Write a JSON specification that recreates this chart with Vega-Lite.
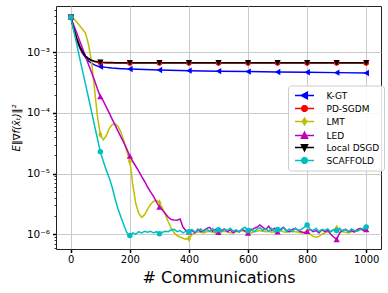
{
  "$schema": "https://vega.github.io/schema/vega-lite/v6.json",
  "width": 325,
  "height": 243,
  "autosize": "none",
  "padding": {"left": 56, "top": 6, "right": 7, "bottom": 44},
  "background": "white",
  "config": {
    "view": {"stroke": "#222222", "strokeWidth": 1},
    "font": "DejaVu Sans"
  },
  "data": {
    "values": [
      {"x": 0, "K-GT": 3.8e-3, "PD-SGDM": 3.8e-3, "LMT": 3.8e-3, "LED": 3.8e-3, "Local DSGD": 3.8e-3, "SCAFFOLD": 3.8e-3},
      {"x": 10, "K-GT": 2.4e-3, "PD-SGDM": 2.44e-3, "LMT": 3.6e-3, "LED": 2.8e-3, "Local DSGD": 2.47e-3, "SCAFFOLD": 2.29e-3},
      {"x": 20, "K-GT": 1.62e-3, "PD-SGDM": 1.68e-3, "LMT": 3.15e-3, "LED": 2.1e-3, "Local DSGD": 1.7e-3, "SCAFFOLD": 1.38e-3},
      {"x": 30, "K-GT": 1.2e-3, "PD-SGDM": 1.25e-3, "LMT": 2.75e-3, "LED": 1.55e-3, "Local DSGD": 1.27e-3, "SCAFFOLD": 8.1e-4},
      {"x": 40, "K-GT": 9.6e-4, "PD-SGDM": 9.95e-4, "LMT": 2.4e-3, "LED": 1.15e-3, "Local DSGD": 1.01e-3, "SCAFFOLD": 4.9e-4},
      {"x": 50, "K-GT": 8.2e-4, "PD-SGDM": 8.6e-4, "LMT": 2.05e-3, "LED": 8.5e-4, "Local DSGD": 8.7e-4, "SCAFFOLD": 2.95e-4},
      {"x": 60, "K-GT": 7.2e-4, "PD-SGDM": 7.77e-4, "LMT": 1.35e-3, "LED": 6.3e-4, "Local DSGD": 7.87e-4, "SCAFFOLD": 1.78e-4},
      {"x": 70, "K-GT": 6.6e-4, "PD-SGDM": 7.29e-4, "LMT": 7.2e-4, "LED": 4.7e-4, "Local DSGD": 7.39e-4, "SCAFFOLD": 1.07e-4},
      {"x": 80, "K-GT": 6.2e-4, "PD-SGDM": 7.02e-4, "LMT": 2.6e-4, "LED": 3.5e-4, "Local DSGD": 7.12e-4, "SCAFFOLD": 6.3e-5},
      {"x": 90, "K-GT": 5.95e-4, "PD-SGDM": 6.86e-4, "LMT": 9e-5, "LED": 2.5e-4, "Local DSGD": 6.96e-4, "SCAFFOLD": 3.8e-5},
      {"x": 100, "K-GT": 5.8e-4, "PD-SGDM": 6.77e-4, "LMT": 4.4e-5, "LED": 1.86e-4, "Local DSGD": 6.87e-4, "SCAFFOLD": 2.3e-5},
      {"x": 110, "K-GT": 5.72e-4, "PD-SGDM": 6.72e-4, "LMT": 3.6e-5, "LED": 1.58e-4, "Local DSGD": 6.82e-4, "SCAFFOLD": 1.6e-5},
      {"x": 120, "K-GT": 5.64e-4, "PD-SGDM": 6.69e-4, "LMT": 4.2e-5, "LED": 1.26e-4, "Local DSGD": 6.79e-4, "SCAFFOLD": 1.15e-5},
      {"x": 130, "K-GT": 5.57e-4, "PD-SGDM": 6.67e-4, "LMT": 5.5e-5, "LED": 1.0e-4, "Local DSGD": 6.77e-4, "SCAFFOLD": 8.5e-6},
      {"x": 140, "K-GT": 5.5e-4, "PD-SGDM": 6.66e-4, "LMT": 6.4e-5, "LED": 7.9e-5, "Local DSGD": 6.76e-4, "SCAFFOLD": 6.0e-6},
      {"x": 150, "K-GT": 5.45e-4, "PD-SGDM": 6.65e-4, "LMT": 6.6e-5, "LED": 6.3e-5, "Local DSGD": 6.75e-4, "SCAFFOLD": 3.8e-6},
      {"x": 160, "K-GT": 5.41e-4, "LMT": 6.0e-5, "LED": 5.0e-5, "SCAFFOLD": 2.6e-6},
      {"x": 170, "K-GT": 5.37e-4, "LMT": 4.8e-5, "LED": 4.0e-5, "SCAFFOLD": 1.9e-6},
      {"x": 180, "K-GT": 5.34e-4, "LMT": 3.4e-5, "LED": 3.2e-5, "SCAFFOLD": 1.4e-6},
      {"x": 190, "K-GT": 5.32e-4, "LMT": 2.3e-5, "LED": 2.5e-5, "SCAFFOLD": 1.05e-6},
      {"x": 200, "K-GT": 5.3e-4, "PD-SGDM": 6.65e-4, "LMT": 1.6e-5, "LED": 1.95e-5, "Local DSGD": 6.75e-4, "SCAFFOLD": 9.5e-7},
      {"x": 210, "LMT": 6.5e-6, "LED": 1.58e-5, "SCAFFOLD": 1.05e-6},
      {"x": 220, "LMT": 3.2e-6, "LED": 1.32e-5, "SCAFFOLD": 1.0e-6},
      {"x": 230, "LMT": 2.2e-6, "LED": 1.1e-5, "SCAFFOLD": 1.1e-6},
      {"x": 240, "LMT": 1.9e-6, "LED": 8.9e-6, "SCAFFOLD": 1.05e-6},
      {"x": 250, "LMT": 2.1e-6, "LED": 7.4e-6, "SCAFFOLD": 1.12e-6},
      {"x": 260, "LMT": 2.6e-6, "LED": 6.0e-6, "SCAFFOLD": 1.08e-6},
      {"x": 270, "LMT": 3.1e-6, "LED": 5.0e-6, "SCAFFOLD": 1.12e-6},
      {"x": 280, "LMT": 3.5e-6, "LED": 4.2e-6, "SCAFFOLD": 1.05e-6},
      {"x": 290, "LMT": 3.6e-6, "LED": 3.4e-6, "SCAFFOLD": 1.1e-6},
      {"x": 300, "K-GT": 5.1e-4, "PD-SGDM": 6.65e-4, "LMT": 3.3e-6, "LED": 2.8e-6, "Local DSGD": 6.75e-4, "SCAFFOLD": 1.02e-6},
      {"x": 310, "LMT": 2.7e-6, "LED": 2.5e-6, "SCAFFOLD": 1.08e-6},
      {"x": 320, "LMT": 2.1e-6, "LED": 2.2e-6, "SCAFFOLD": 1.12e-6},
      {"x": 330, "LMT": 1.6e-6, "LED": 1.9e-6, "SCAFFOLD": 1.1e-6},
      {"x": 340, "LMT": 1.25e-6, "LED": 1.75e-6, "SCAFFOLD": 1.18e-6},
      {"x": 350, "LMT": 1.05e-6, "LED": 1.72e-6, "SCAFFOLD": 1.2e-6},
      {"x": 360, "LMT": 9.5e-7, "LED": 1.7e-6, "SCAFFOLD": 1.1e-6},
      {"x": 370, "LMT": 9.0e-7, "LED": 1.78e-6, "SCAFFOLD": 1.15e-6},
      {"x": 380, "LMT": 8.6e-7, "LED": 1.3e-6, "SCAFFOLD": 1.05e-6},
      {"x": 390, "LMT": 8.3e-7, "LED": 1.15e-6, "SCAFFOLD": 1.12e-6},
      {"x": 400, "K-GT": 4.97e-4, "PD-SGDM": 6.65e-4, "LMT": 8.5e-7, "LED": 1.1e-6, "Local DSGD": 6.75e-4, "SCAFFOLD": 1.1e-6},
      {"x": 410, "LMT": 9.8e-7, "LED": 1.15e-6, "SCAFFOLD": 1.2e-6},
      {"x": 420, "LMT": 1.05e-6, "LED": 1.05e-6, "SCAFFOLD": 1.08e-6},
      {"x": 430, "LMT": 1.1e-6, "LED": 1.2e-6, "SCAFFOLD": 1.15e-6},
      {"x": 440, "LMT": 1.08e-6, "LED": 1.1e-6, "SCAFFOLD": 1.22e-6},
      {"x": 450, "LMT": 1.05e-6, "LED": 1.15e-6, "SCAFFOLD": 1.1e-6},
      {"x": 460, "LMT": 1.1e-6, "LED": 1.25e-6, "SCAFFOLD": 1.2e-6},
      {"x": 470, "LMT": 1.12e-6, "LED": 1.3e-6, "SCAFFOLD": 1.12e-6},
      {"x": 480, "LMT": 1.08e-6, "LED": 1.12e-6, "SCAFFOLD": 1.25e-6},
      {"x": 490, "LMT": 1.05e-6, "LED": 1.2e-6, "SCAFFOLD": 1.08e-6},
      {"x": 500, "K-GT": 4.88e-4, "PD-SGDM": 6.65e-4, "LMT": 1.08e-6, "LED": 1.08e-6, "Local DSGD": 6.75e-4, "SCAFFOLD": 1.18e-6},
      {"x": 510, "LMT": 1.1e-6, "LED": 1.15e-6, "SCAFFOLD": 1.1e-6},
      {"x": 520, "LMT": 1.12e-6, "LED": 1.22e-6, "SCAFFOLD": 1.2e-6},
      {"x": 530, "LMT": 1.1e-6, "LED": 1.1e-6, "SCAFFOLD": 1.15e-6},
      {"x": 540, "LMT": 1.05e-6, "LED": 1.18e-6, "SCAFFOLD": 1.25e-6},
      {"x": 550, "LMT": 1.08e-6, "LED": 1.05e-6, "SCAFFOLD": 1.12e-6},
      {"x": 560, "LMT": 1.1e-6, "LED": 1.15e-6, "SCAFFOLD": 1.18e-6},
      {"x": 570, "LMT": 1.12e-6, "LED": 1.1e-6, "SCAFFOLD": 1.08e-6},
      {"x": 580, "LMT": 1.15e-6, "LED": 1.2e-6, "SCAFFOLD": 1.22e-6},
      {"x": 590, "LMT": 1.1e-6, "LED": 1.12e-6, "SCAFFOLD": 1.3e-6},
      {"x": 600, "K-GT": 4.8e-4, "PD-SGDM": 6.65e-4, "LMT": 1.08e-6, "LED": 1.05e-6, "Local DSGD": 6.75e-4, "SCAFFOLD": 1.15e-6},
      {"x": 610, "LMT": 1.05e-6, "LED": 1.15e-6, "SCAFFOLD": 1.22e-6},
      {"x": 620, "LMT": 1.1e-6, "LED": 1.25e-6, "SCAFFOLD": 1.1e-6},
      {"x": 630, "LMT": 1.12e-6, "LED": 1.3e-6, "SCAFFOLD": 1.2e-6},
      {"x": 640, "LMT": 1.15e-6, "LED": 1.42e-6, "SCAFFOLD": 1.28e-6},
      {"x": 650, "LMT": 1.12e-6, "LED": 1.3e-6, "SCAFFOLD": 1.15e-6},
      {"x": 660, "LMT": 1.1e-6, "LED": 1.2e-6, "SCAFFOLD": 1.22e-6},
      {"x": 670, "LMT": 1.12e-6, "LED": 1.35e-6, "SCAFFOLD": 1.12e-6},
      {"x": 680, "LMT": 1.08e-6, "LED": 1.15e-6, "SCAFFOLD": 1.25e-6},
      {"x": 690, "LMT": 1.1e-6, "LED": 1.25e-6, "SCAFFOLD": 1.1e-6},
      {"x": 700, "K-GT": 4.73e-4, "PD-SGDM": 6.65e-4, "LMT": 1.12e-6, "LED": 1.1e-6, "Local DSGD": 6.75e-4, "SCAFFOLD": 1.2e-6},
      {"x": 710, "LMT": 1.15e-6, "LED": 1.2e-6, "SCAFFOLD": 1.15e-6},
      {"x": 720, "LMT": 1.1e-6, "LED": 1.3e-6, "SCAFFOLD": 1.28e-6},
      {"x": 730, "LMT": 1.08e-6, "LED": 1.15e-6, "SCAFFOLD": 1.12e-6},
      {"x": 740, "LMT": 1.1e-6, "LED": 1.1e-6, "SCAFFOLD": 1.22e-6},
      {"x": 750, "LMT": 1.12e-6, "LED": 1.2e-6, "SCAFFOLD": 1.1e-6},
      {"x": 760, "LMT": 1.1e-6, "LED": 1.25e-6, "SCAFFOLD": 1.25e-6},
      {"x": 770, "LMT": 1.08e-6, "LED": 1.15e-6, "SCAFFOLD": 1.15e-6},
      {"x": 780, "LMT": 1.05e-6, "LED": 1.1e-6, "SCAFFOLD": 1.2e-6},
      {"x": 790, "LMT": 1.08e-6, "LED": 1.05e-6, "SCAFFOLD": 1.3e-6},
      {"x": 800, "K-GT": 4.68e-4, "PD-SGDM": 6.65e-4, "LMT": 1.1e-6, "LED": 1.12e-6, "Local DSGD": 6.75e-4, "SCAFFOLD": 1.42e-6},
      {"x": 810, "LMT": 1.0e-6, "LED": 1.2e-6, "SCAFFOLD": 1.2e-6},
      {"x": 820, "LMT": 9.2e-7, "LED": 1.1e-6, "SCAFFOLD": 1.15e-6},
      {"x": 830, "LMT": 8.9e-7, "LED": 1.15e-6, "SCAFFOLD": 1.25e-6},
      {"x": 840, "LMT": 9.2e-7, "LED": 1.05e-6, "SCAFFOLD": 1.1e-6},
      {"x": 850, "LMT": 1.0e-6, "LED": 1.18e-6, "SCAFFOLD": 1.2e-6},
      {"x": 860, "LMT": 1.05e-6, "LED": 1.1e-6, "SCAFFOLD": 1.15e-6},
      {"x": 870, "LMT": 1.1e-6, "LED": 1.15e-6, "SCAFFOLD": 1.22e-6},
      {"x": 880, "LMT": 1.12e-6, "LED": 1.0e-6, "SCAFFOLD": 1.1e-6},
      {"x": 890, "LMT": 1.2e-6, "LED": 9.0e-7, "SCAFFOLD": 1.18e-6},
      {"x": 900, "K-GT": 4.62e-4, "PD-SGDM": 6.65e-4, "LMT": 1.25e-6, "LED": 8.2e-7, "Local DSGD": 6.75e-4, "SCAFFOLD": 1.15e-6},
      {"x": 910, "LMT": 1.15e-6, "LED": 1.05e-6, "SCAFFOLD": 1.25e-6},
      {"x": 920, "LMT": 1.1e-6, "LED": 1.15e-6, "SCAFFOLD": 1.12e-6},
      {"x": 930, "LMT": 1.08e-6, "LED": 1.2e-6, "SCAFFOLD": 1.2e-6},
      {"x": 940, "LMT": 1.05e-6, "LED": 1.1e-6, "SCAFFOLD": 1.1e-6},
      {"x": 950, "LMT": 1.1e-6, "LED": 1.15e-6, "SCAFFOLD": 1.22e-6},
      {"x": 960, "LMT": 1.12e-6, "LED": 1.08e-6, "SCAFFOLD": 1.15e-6},
      {"x": 970, "LMT": 1.15e-6, "LED": 1.2e-6, "SCAFFOLD": 1.12e-6},
      {"x": 980, "LMT": 1.18e-6, "LED": 1.25e-6, "SCAFFOLD": 1.2e-6},
      {"x": 990, "LMT": 1.2e-6, "LED": 1.15e-6, "SCAFFOLD": 1.25e-6},
      {"x": 1000, "K-GT": 4.56e-4, "PD-SGDM": 6.65e-4, "LMT": 1.22e-6, "LED": 1.2e-6, "Local DSGD": 6.75e-4, "SCAFFOLD": 1.32e-6}
    ]
  },
  "transform": [
    {"fold": ["K-GT", "PD-SGDM", "LMT", "LED", "Local DSGD", "SCAFFOLD"], "as": ["series", "value"]},
    {"filter": "isValid(datum.value)"}
  ],
  "encoding": {
    "x": {
      "field": "x", "type": "quantitative",
      "scale": {"domain": [-50, 1050], "nice": false, "zero": false},
      "axis": {
        "values": [0, 200, 400, 600, 800, 1000], "format": "d",
        "labelFont": "DejaVu Sans", "labelFontSize": 10, "labelColor": "black", "labelPadding": 2,
        "tickSize": 3.5, "tickWidth": 1.5, "tickColor": "black",
        "domain": false, "grid": true, "gridColor": "#cbcbcb", "gridWidth": 1,
        "title": "# Communications", "titleFont": "DejaVu Sans", "titleFontSize": 16,
        "titleFontWeight": "normal", "titleColor": "black", "titlePadding": 5
      }
    },
    "y": {
      "field": "value", "type": "quantitative",
      "scale": {"type": "log", "domain": [5.7e-7, 5.8e-3], "nice": false},
      "axis": {
        "values": [6e-7, 7e-7, 8e-7, 9e-7, 1e-6, 2e-6, 3e-6, 4e-6, 5e-6, 6e-6, 7e-6, 8e-6, 9e-6, 1e-5, 2e-5, 3e-5, 4e-5, 5e-5, 6e-5, 7e-5, 8e-5, 9e-5, 1e-4, 2e-4, 3e-4, 4e-4, 5e-4, 6e-4, 7e-4, 8e-4, 9e-4, 1e-3, 2e-3, 3e-3, 4e-3, 5e-3],
        "labelExpr": "abs(log(datum.value)/LN10+6)<0.01 ? '10⁻⁶' : abs(log(datum.value)/LN10+5)<0.01 ? '10⁻⁵' : abs(log(datum.value)/LN10+4)<0.01 ? '10⁻⁴' : abs(log(datum.value)/LN10+3)<0.01 ? '10⁻³' : ''",
        "labelFont": "DejaVu Sans", "labelFontSize": 10.5, "labelColor": "black", "labelPadding": 3,
        "tickColor": "black",
        "tickSize": {"condition": {"test": "abs(log(datum.value)/LN10 - round(log(datum.value)/LN10)) < 0.01", "value": 3.5}, "value": 2},
        "tickWidth": {"condition": {"test": "abs(log(datum.value)/LN10 - round(log(datum.value)/LN10)) < 0.01", "value": 1.5}, "value": 0.8},
        "domain": false, "grid": true, "gridColor": "#cbcbcb", "gridWidth": 1,
        "gridOpacity": {"condition": {"test": "abs(log(datum.value)/LN10 - round(log(datum.value)/LN10)) < 0.01", "value": 1}, "value": 0},
        "labelOverlap": false,
        "title": "E‖∇f(x̄ₜ)‖²", "titleFont": "DejaVu Sans", "titleFontSize": 10, "titleFontStyle": "italic",
        "titleFontWeight": "normal", "titleColor": "black", "titlePadding": 5
      }
    },
    "color": {
      "field": "series", "type": "nominal", "legend": null,
      "scale": {
        "domain": ["K-GT", "PD-SGDM", "LMT", "LED", "Local DSGD", "SCAFFOLD"],
        "range": ["#0000ff", "#ff0000", "#bfbf00", "#bf00bf", "#000000", "#00bfbf"]
      }
    }
  },
  "layer": [
    {
      "transform": [{"filter": {"field": "x", "oneOf": [0, 100, 200, 300, 400, 500, 600, 700, 800, 900, 1000]}}],
      "mark": {"type": "point", "filled": true, "opacity": 0, "strokeWidth": 1.5},
      "encoding": {
        "color": {
          "field": "series", "type": "nominal",
          "scale": {
            "domain": ["K-GT", "PD-SGDM", "LMT", "LED", "Local DSGD", "SCAFFOLD"],
            "range": ["#0000ff", "#ff0000", "#bfbf00", "#bf00bf", "#000000", "#00bfbf"]
          },
          "legend": {"title": null, "orient": "none", "legendX": 232, "legendY": 79.5, "labelFont": "DejaVu Sans", "labelFontSize": 9, "labelColor": "black", "symbolSize": 100, "symbolStrokeWidth": 1.5, "symbolOpacity": 1, "symbolOffset": 6.5, "padding": 4, "rowPadding": 0, "labelOffset": 16, "fillColor": "rgba(255,255,255,0.85)", "strokeColor": "#cccccc", "cornerRadius": 3}
        },
        "stroke": {
          "field": "series", "type": "nominal",
          "scale": {
            "domain": ["K-GT", "PD-SGDM", "LMT", "LED", "Local DSGD", "SCAFFOLD"],
            "range": ["#0000ff", "#ff0000", "#bfbf00", "#bf00bf", "#000000", "#00bfbf"]
          },
          "legend": {"title": null, "orient": "none", "legendX": 232, "legendY": 79.5, "labelFont": "DejaVu Sans", "labelFontSize": 9, "labelColor": "black", "symbolSize": 100, "symbolStrokeWidth": 1.5, "symbolOpacity": 1, "symbolOffset": 6.5, "padding": 4, "rowPadding": 0, "labelOffset": 16, "fillColor": "rgba(255,255,255,0.85)", "strokeColor": "#cccccc", "cornerRadius": 3}
        },
        "shape": {
          "field": "series", "type": "nominal",
          "scale": {
            "domain": ["K-GT", "PD-SGDM", "LMT", "LED", "Local DSGD", "SCAFFOLD"],
            "range": [
              "M-1.9,0H1.9M-0.65,0L0.57,-0.65L0.57,0.65Z",
              "M-1.9,0H1.9M0.53,0.22L0.22,0.53L-0.22,0.53L-0.53,0.22L-0.53,-0.22L-0.22,-0.53L0.22,-0.53L0.53,-0.22Z",
              "M-1.9,0H1.9M0,-0.68L0.42,0L0,0.68L-0.42,0Z",
              "M-1.9,0H1.9M0,-0.65L0.61,0.53L-0.61,0.53Z",
              "M-1.9,0H1.9M0,0.65L0.61,-0.53L-0.61,-0.53Z",
              "M-1.9,0H1.9M0.53,0.22L0.22,0.53L-0.22,0.53L-0.53,0.22L-0.53,-0.22L-0.22,-0.53L0.22,-0.53L0.53,-0.22Z"
            ]
          },
          "legend": {"title": null, "orient": "none", "legendX": 232, "legendY": 79.5, "labelFont": "DejaVu Sans", "labelFontSize": 9, "labelColor": "black", "symbolSize": 100, "symbolStrokeWidth": 1.5, "symbolOpacity": 1, "symbolOffset": 6.5, "padding": 4, "rowPadding": 0, "labelOffset": 16, "fillColor": "rgba(255,255,255,0.85)", "strokeColor": "#cccccc", "cornerRadius": 3}
        }
      }
    },
    {
      "mark": {"type": "line", "strokeWidth": 1.5},
      "encoding": {}
    },
    {
      "transform": [{"filter": {"and": [{"field": "series", "equal": "K-GT"}, {"field": "x", "oneOf": [0, 100, 200, 300, 400, 500, 600, 700, 800, 900, 1000]}]}}],
      "mark": {"type": "point", "filled": true, "opacity": 1, "shape": "triangle-left", "size": 40},
      "encoding": {}
    },
    {
      "transform": [{"filter": {"and": [{"field": "series", "equal": "PD-SGDM"}, {"field": "x", "oneOf": [0, 100, 200, 300, 400, 500, 600, 700, 800, 900, 1000]}]}}],
      "mark": {"type": "point", "filled": true, "opacity": 1, "shape": "circle", "size": 30},
      "encoding": {}
    },
    {
      "transform": [{"filter": {"and": [{"field": "series", "equal": "LMT"}, {"field": "x", "oneOf": [0, 100, 200, 300, 400, 500, 600, 700, 800, 900, 1000]}]}}],
      "mark": {"type": "point", "filled": true, "opacity": 1, "shape": "M0,-1L0.6,0L0,1L-0.6,0Z", "size": 50},
      "encoding": {}
    },
    {
      "transform": [{"filter": {"and": [{"field": "series", "equal": "LED"}, {"field": "x", "oneOf": [0, 100, 200, 300, 400, 500, 600, 700, 800, 900, 1000]}]}}],
      "mark": {"type": "point", "filled": true, "opacity": 1, "shape": "triangle-up", "size": 40},
      "encoding": {}
    },
    {
      "transform": [{"filter": {"and": [{"field": "series", "equal": "Local DSGD"}, {"field": "x", "oneOf": [0, 100, 200, 300, 400, 500, 600, 700, 800, 900, 1000]}]}}],
      "mark": {"type": "point", "filled": true, "opacity": 1, "shape": "triangle-down", "size": 40},
      "encoding": {}
    },
    {
      "transform": [{"filter": {"and": [{"field": "series", "equal": "SCAFFOLD"}, {"field": "x", "oneOf": [0, 100, 200, 300, 400, 500, 600, 700, 800, 900, 1000]}]}}],
      "mark": {"type": "point", "filled": true, "opacity": 1, "shape": "circle", "size": 30},
      "encoding": {}
    }
  ]
}
